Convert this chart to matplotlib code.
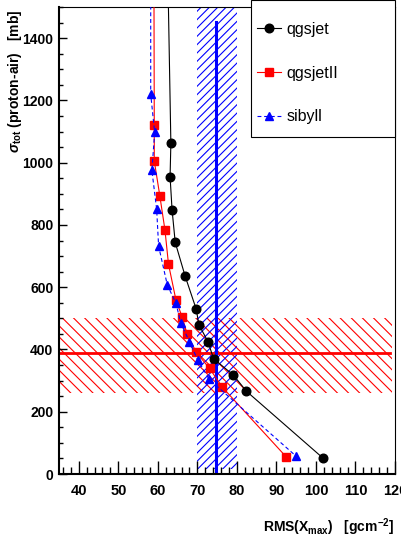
import numpy as np
import matplotlib
matplotlib.use('Agg')
import matplotlib.pyplot as plt
from matplotlib.ticker import MultipleLocator
from matplotlib.patches import Rectangle

plt.rcParams['font.family'] = ['Liberation Sans', 'DejaVu Sans']
plt.rcParams['mathtext.fontset'] = 'custom'
plt.rcParams['mathtext.rm'] = 'Liberation Sans:bold'
plt.rcParams['mathtext.bf'] = 'Liberation Sans:bold'
plt.rcParams['mathtext.it'] = 'Liberation Sans:italic:bold'
plt.rcParams['hatch.linewidth'] = 0.8

# model curves: RMS(Xmax) vs sigma_tot (first point lies above the frame)
qgsjet_rms = [62.4, 63.3, 63.1, 63.6, 64.4, 66.9, 69.7, 70.4, 72.7, 74.1, 79.1, 82.4, 101.7]
qgsjet_sig = [1700, 1062, 955, 849, 744, 636, 530, 479, 425, 370, 318, 266, 52]

qgsjetII_rms = [59.0, 59.1, 59.1, 60.5, 61.8, 62.7, 64.6, 66.2, 67.4, 69.7, 73.1, 76.3, 92.4]
qgsjetII_sig = [1700, 1120, 1006, 894, 784, 674, 558, 503, 450, 391, 339, 279, 56]

sibyll_rms = [58.2, 58.2, 59.2, 58.5, 59.7, 60.2, 62.4, 64.6, 65.8, 68.0, 70.1, 73.0, 95.0]
sibyll_sig = [1700, 1220, 1097, 975, 851, 732, 607, 548, 485, 425, 366, 304, 57]

# measurement bands
rms_meas, rms_lo, rms_hi = 74.8, 70.0, 80.0
rms_band_y = [15, 1500]
rms_line_y = [5, 1453]
sig_meas, sig_lo, sig_hi = 388, 261, 502
sig_band_x = [35, 119.2]
sig_line_x = [35, 118.7]

fig = plt.figure(figsize=(4.01, 5.39), dpi=100)
ax = fig.add_axes([59/401, 1-474/539, 336/401, 467/539])

# red horizontal band (sigma)
ax.fill_between(sig_band_x, sig_lo, sig_hi, facecolor='none', edgecolor='red',
                linewidth=0, hatch='\\\\\\', zorder=1)
ax.plot(sig_line_x, [sig_meas, sig_meas], color='red', lw=2.0, zorder=2)

# blue vertical band (RMS)
ax.fill_betweenx(rms_band_y, rms_lo, rms_hi, facecolor='none', edgecolor='blue',
                 linewidth=0, hatch='////', zorder=1)
ax.plot([rms_meas, rms_meas], rms_line_y, color='blue', lw=2.2, zorder=2)

ax.plot(qgsjet_rms, qgsjet_sig, color='black', lw=0.8, marker='o', ms=6.2,
        mec='black', label='qgsjet', zorder=4)
ax.plot(qgsjetII_rms, qgsjetII_sig, color='red', lw=0.8, marker='s', ms=5.3,
        mec='red', label='qgsjetII', zorder=4)
ax.plot(sibyll_rms, sibyll_sig, color='blue', lw=0.8, ls=(0, (3.5, 2.5)), marker='^', ms=6.2,
        mec='blue', label='sibyll', zorder=4)

ax.set_xlim(35, 120)
ax.set_ylim(0, 1500)

ax.xaxis.set_major_locator(MultipleLocator(10))
ax.xaxis.set_minor_locator(MultipleLocator(2))
ax.yaxis.set_major_locator(MultipleLocator(200))
ax.yaxis.set_minor_locator(MultipleLocator(50))
ax.tick_params(axis='x', which='major', direction='in', length=9.5, width=1, pad=7,
               labelsize=10.5, top=False)
ax.tick_params(axis='x', which='minor', direction='in', length=5, width=1, top=False)
ax.tick_params(axis='y', which='major', direction='in', length=6, width=1, pad=4,
               labelsize=10, right=False)
ax.tick_params(axis='y', which='minor', direction='in', length=3, width=1, right=False)
for lab in ax.get_xticklabels() + ax.get_yticklabels():
    lab.set_fontweight('bold')

ax.spines['left'].set_linewidth(1.5)
ax.spines['bottom'].set_linewidth(1.5)
ax.spines['top'].set_linewidth(0.8)
ax.spines['right'].set_linewidth(0.8)

# legend box
ax.add_patch(Rectangle(((251-59)/336, (474-137)/467), 1-(251-59)/336, 137/467,
                       transform=ax.transAxes, facecolor='white', edgecolor='black',
                       lw=0.8, zorder=5, clip_on=False))
leg = ax.legend(loc='upper left', bbox_to_anchor=((257-59)/336, (474-22)/467),
                frameon=False, borderpad=0, borderaxespad=0, fontsize=11.5,
                handlelength=1.5, handletextpad=0.35, labelspacing=1.8)
leg.set_zorder(6)

fig.text(394/401, 1-527/539, r'RMS(X$_{\mathregular{max}}$)   [gcm$^{-2}$]',
         ha='right', va='center', fontsize=10, fontweight='bold')
fig.text(15/401, 1-10/539, r'$\sigma_{\mathregular{tot}}$ (proton-air)   [mb]',
         ha='center', va='top', rotation=90, fontsize=10, fontweight='bold')

fig.savefig('out.png', dpi=100)
